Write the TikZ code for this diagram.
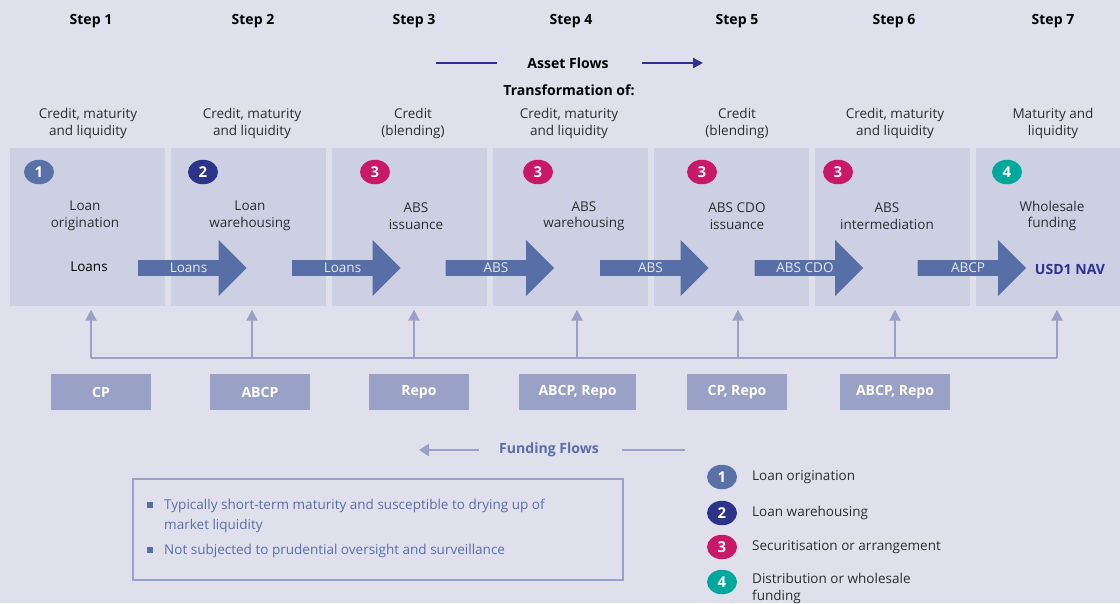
\documentclass[tikz,border=0pt]{standalone}
\usepackage{fontspec}
\setmainfont{Open Sans}
\usetikzlibrary{arrows.meta,shapes.arrows,shapes.geometric}
\definecolor{bgc}{RGB}{224,224,237}
\definecolor{pc}{RGB}{205,208,226}
\definecolor{ac}{RGB}{87,111,166}
\definecolor{fc}{RGB}{153,161,198}
\definecolor{nv}{RGB}{45,50,145}
\definecolor{c1}{RGB}{90,113,168}
\definecolor{c2}{RGB}{44,52,138}
\definecolor{c3}{RGB}{200,25,105}
\definecolor{c4}{RGB}{0,168,156}
\definecolor{tx}{RGB}{45,45,45}
\tikzset{every node/.style={font=\fontsize{7.7}{9.4}\selectfont,text=tx,align=center},
 hd/.style={font=\fontsize{8}{9.6}\selectfont\bfseries,text=black},
 pan/.style={fill=pc,anchor=north west,inner sep=0,minimum width=3.1cm,minimum height=3.16cm},
 bdg/.style={ellipse,inner sep=0,minimum width=6mm,minimum height=4.9mm,text=white,font=\fontsize{8.5}{9}\selectfont\bfseries},
 flw/.style={single arrow,fill=ac,text=pc!50!white,inner sep=0,minimum height=2.17cm,minimum width=1.12cm,single arrow head extend=2.7mm},
 fnd/.style={fill=fc,text=white,font=\fontsize{8}{9}\selectfont\bfseries,minimum height=7.2mm,inner sep=0},
 bus/.style={draw=fc,line width=1.2pt},up/.style={bus,-{Triangle[length=2.2mm,width=2.2mm]},shorten >=1.7pt},
 nvl/.style={draw=nv,line width=1.2pt},blt/.style={fill=ac,minimum size=1.2mm,inner sep=0},
 lg/.style={anchor=west,align=left}}
\begin{document}
\begin{tikzpicture}[x=0.02cm,y=-0.02cm]
\fill[bgc] (0,0) rectangle (1120,603);\useasboundingbox (0,0) rectangle (1120,603);
% steps and what they transform
\node[hd] (s1) at (91,21) {Step 1};\node[hd] (s2) at (253,21) {Step 2};\node[hd] (s3) at (414,21) {Step 3};
\node[hd] (s4) at (571,21) {Step 4};\node[hd] (s5) at (737,21) {Step 5};\node[hd] (s6) at (894,21) {Step 6};
\node[hd] (s7) at (1053,21) {Step 7};
\node[hd] (af) at (568,63) {Asset Flows};\node[hd] (tf) at (569,90) {Transformation of:};
\coordinate (al) at (436,63);\coordinate (ar) at (703,63);
\draw[nvl] (af.west) ++(-24,0) -- (al);\draw[nvl,-{Triangle[length=2mm,width=2mm]}] (af.east) ++(27,0) -- (ar);
\node (t1) at (88,123.5) {Credit, maturity\\and liquidity};\node (t2) at (252,123.5) {Credit, maturity\\and liquidity};
\node (t3) at (413,123.5) {Credit\\(blending)};\node (t4) at (569,123.5) {Credit, maturity\\and liquidity};
\node (t5) at (737,123.5) {Credit\\(blending)};\node (t6) at (895,123.5) {Credit, maturity\\and liquidity};
\node (t7) at (1053,123.5) {Maturity and\\liquidity};
% panels
\node[pan] (p1) at (10,148) {};\node[pan] (p2) at (171,148) {};\node[pan] (p3) at (332,148) {};
\node[pan] (p4) at (493,148) {};\node[pan] (p5) at (654,148) {};\node[pan] (p6) at (815,148) {};
\node[pan,minimum width=2.88cm] (p7) at (976,148) {};
\node[bdg,fill=c1] (b1) at (39,172) {1};\node[bdg,fill=c2] (b2) at (203,172) {2};\node[bdg,fill=c3] (b3) at (375,172) {3};
\node[bdg,fill=c3] (b4) at (538,172) {3};\node[bdg,fill=c3] (b5) at (702,172) {3};\node[bdg,fill=c3] (b6) at (838,172) {3};
\node[bdg,fill=c4] (b7) at (1007,172) {4};
\node (n1) at (85,216) {Loan\\origination};\node (n2) at (250,216) {Loan\\warehousing};
\node (n3) at (416,216) {ABS\\issuance};\node (n4) at (584,216) {ABS\\warehousing};
\node (n5) at (737,216) {ABS CDO\\issuance};\node (n6) at (887,216) {ABS\\intermediation};
\node (n7) at (1052,216) {Wholesale\\funding};
% asset arrows
\node[text=black] (ln) at (89,267) {Loans};
\node[flw] (a1) at (188.5,268) {Loans};\node[flw] (a2) at (342.5,268) {Loans};\node[flw] (a3) at (496,268) {ABS};
\node[flw] (a4) at (650.5,268) {ABS};\node[flw] (a5) at (805,268) {ABS CDO};\node[flw] (a6) at (968,268) {ABCP};
\node[text=nv,font=\fontsize{8}{9}\selectfont\bfseries] (usd) at (1070,269) {USD1 NAV};
% funding
\coordinate (j1) at (91,358);\coordinate (j2) at (252,358);\coordinate (j3) at (414,358);\coordinate (j4) at (577,358);
\coordinate (j5) at (738,358);\coordinate (j6) at (895,358);\coordinate (j7) at (1057,358);
\draw[bus] (j1) -- (j7);
\draw[up] (j1) -- (j1 |- p1.south);\draw[up] (j2) -- (j2 |- p2.south);\draw[up] (j3) -- (j3 |- p3.south);
\draw[up] (j4) -- (j4 |- p4.south);\draw[up] (j5) -- (j5 |- p5.south);\draw[up] (j6) -- (j6 |- p6.south);
\draw[up] (j7) -- (j7 |- p7.south);
\node[fnd,minimum width=2cm] (f1) at (101,392) {CP};\node[fnd,minimum width=2cm] (f2) at (260,392) {ABCP};
\node[fnd,minimum width=2cm] (f3) at (419,392) {Repo};\node[fnd,minimum width=2.34cm] (f4) at (577.5,392) {ABCP, Repo};
\node[fnd,minimum width=2cm] (f5) at (737,392) {CP, Repo};\node[fnd,minimum width=2.2cm] (f6) at (895,392) {ABCP, Repo};
\node[text=ac,font=\fontsize{8}{9}\selectfont\bfseries] (ff) at (549,450) {Funding Flows};
\coordinate (fl) at (419,450);\coordinate (fr) at (685,450);
\draw[bus,line width=1.5pt,-{Triangle[length=2mm,width=2.4mm]}] (ff.west) ++(-14,0) -- (fl);
\draw[bus,line width=1.5pt] (ff.east) ++(17,0) -- (fr);
% notes
\node[draw=fc,line width=1.3pt,minimum width=9.8cm,minimum height=2.02cm,inner sep=0] (nb) at (378,529.5) {};
\node[blt] (q1) at (150,505) {};\node[blt] (q2) at (150,550) {};
\node[lg,text=ac,font=\fontsize{7.7}{11.2}\selectfont] (m1) at (158,516) {Typically short-term maturity and susceptible to drying up of\\market liquidity};
\node[lg,text=ac] (m2) at (158,551) {Not subjected to prudential oversight and surveillance};
% legend
\node[bdg,fill=c1] (k1) at (722,477) {1};\node[lg] (l1) at (746,477) {Loan origination};
\node[bdg,fill=c2] (k2) at (722,513) {2};\node[lg] (l2) at (746,513) {Loan warehousing};
\node[bdg,fill=c3] (k3) at (722,547) {3};\node[lg] (l3) at (746,547) {Securitisation or arrangement};
\node[bdg,fill=c4] (k4) at (722,582) {4};\node[lg,font=\fontsize{7.7}{9.7}\selectfont] (l4) at (746,588) {Distribution or wholesale\\funding};
\end{tikzpicture}
\end{document}
